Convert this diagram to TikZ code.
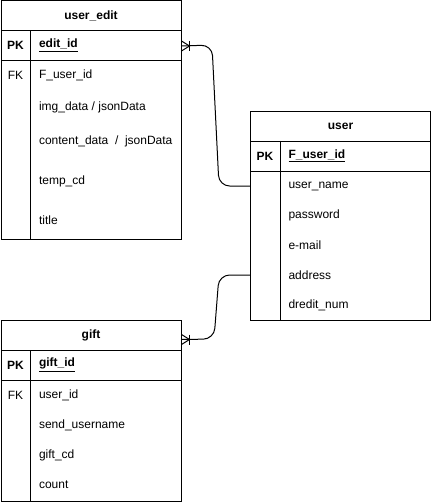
\documentclass[tikz,border=0pt]{standalone}
\usepackage{fontspec}
\setmainfont{Liberation Sans}
\begin{document}
\begin{tikzpicture}[x=0.75pt, y=-0.75pt, line width=0.75pt,
  every node/.style={font=\fontsize{9}{11}\selectfont, inner sep=0pt},
  box/.style={draw, anchor=north west, minimum width=135pt},
  row/.style={draw, anchor=north west, minimum width=135pt, minimum height=22.5pt},
  titlerow/.style={row, font=\fontsize{9}{11}\selectfont\bfseries},
  key/.style={font=\fontsize{9}{11}\selectfont\bfseries},
  field/.style={anchor=west}]
  \useasboundingbox (0,0) rectangle (431,502);

  % user_edit
  \begin{scope}[shift={(0.5,0.5)}]
    \node[box, minimum height=178.5pt] (useredit) at (0,0) {};
    \node[titlerow] (ue-title) at (0,0) {user\_edit};
    \node[row] (ue-pkrow) at (0,30) {};
    \draw (30,30) -- (30,238);
    \node[key] at (15,45) {PK};
    \node[key, field] (ue-pk) at (38,45) {\underline{edit\_id}};
    \node at (15,75) {FK};
    \foreach \y/\n/\t in {75/fk/F\_user\_id, 107/img/{img\_data / jsonData},
        141/content/{content\_data~~/~~jsonData}, 181/temp/temp\_cd, 220/title/title}
      \node[field] (ue-\n) at (38,\y) {\t};
  \end{scope}

  % user
  \begin{scope}[shift={(250,111)}]
    \node[box, minimum height=156.75pt] (user) at (0,0) {};
    \node[titlerow] (u-title) at (0,0) {user};
    \node[row] (u-pkrow) at (0,30) {};
    \draw (30,30) -- (30,209);
    \node[key] at (15,45) {PK};
    \node[key, field] (u-pk) at (38,45) {\underline{F\_user\_id}};
    \foreach \y/\n/\t in {75/name/user\_name, 104/password/password, 134/mail/e-mail,
        164/address/address, 194/num/dredit\_num}
      \node[field] (u-\n) at (38,\y) {\t};
  \end{scope}

  % gift
  \begin{scope}[shift={(0.5,320)}]
    \node[box, minimum height=135.75pt] (gift) at (0,0) {};
    \node[titlerow] (g-title) at (0,0) {gift};
    \node[row] (g-pkrow) at (0,30) {};
    \draw (30,30) -- (30,181);
    \node[key] at (15,45) {PK};
    \node[key, field] (g-pk) at (38,45) {\underline{gift\_id}};
    \node at (15,75) {FK};
    \foreach \y/\n/\t in {75/user/user\_id, 105/send/send\_username, 135/cd/gift\_cd, 165/count/count}
      \node[field] (g-\n) at (38,\y) {\t};
  \end{scope}

  % relations
  \coordinate (ue-end) at (ue-pkrow.east);
  \coordinate (g-end) at ([yshift=-3pt]g-title.east);
  \draw[rounded corners=8pt] (ue-end) -- (212,45) -- (219,186) -- (user.west |- u-name);
  \draw[rounded corners=8pt] (g-end) -- (214,339) -- (219,275) -- (user.west |- u-address);
  \foreach \c in {ue-end, g-end} {
    \draw (\c) ++(0,-5) -- ++(8,5) -- ++(-8,5);
    \draw (\c) ++(8,-5) -- ++(0,10);
  }
\end{tikzpicture}
\end{document}
